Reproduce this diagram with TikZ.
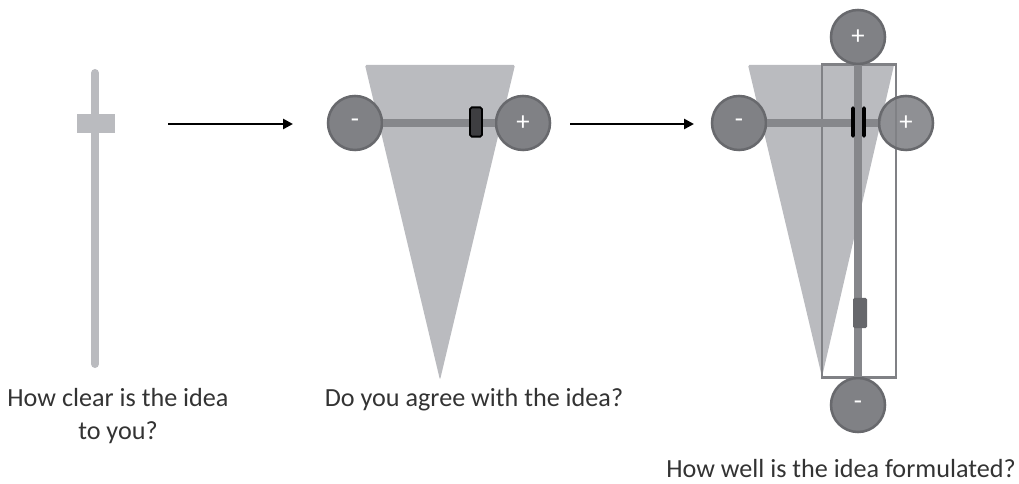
\documentclass[tikz,border=0pt]{standalone}
\usepackage{fontspec}
\setmainfont{Carlito}
\usepackage{tikz}
\usetikzlibrary{arrows.meta}
\definecolor{railgris}{RGB}{186,187,191}
\definecolor{knobgris}{RGB}{128,129,133}
\definecolor{knobborde}{RGB}{104,105,109}
\definecolor{trackgris}{RGB}{134,135,139}
\definecolor{gripgris}{RGB}{62,62,65}
\definecolor{handlegris}{RGB}{102,103,107}

\begin{document}
\begin{tikzpicture}[
  x=0.025cm, y=-0.025cm,
  knob/.style={circle, fill=knobgris, draw=knobborde, line width=1.8pt, minimum size=1.35cm,
    inner sep=0pt, text=white, font=\fontsize{19}{19}\selectfont},
  track/.style={draw=trackgris, line width=5.7pt},
  rail/.style={draw=railgris, line width=5.7pt, line cap=round},
  wedge/.style={fill=railgris, rounded corners=1pt},
  grip/.style={draw=black, fill=gripgris, line width=1.3pt, rounded corners=1.2pt, inner sep=0pt,
    minimum width=0.3cm, minimum height=0.73cm},
  question/.style={align=center, font=\fontsize{18.6}{22.8}\selectfont, text=black!80},
  >={Triangle[length=7pt, width=7pt]}, flow/.style={->, line width=2pt}
]
\useasboundingbox (0,0) rectangle (1019,484);

% panel 1: clarity slider
\draw[rail] (95,73) -- (95,364);
\node[fill=railgris, minimum width=0.925cm, minimum height=0.475cm, inner sep=0pt] (h1) at (96,124) {};
\node[question] (q1) at (118,416) {How clear is the idea\\to you?};

\coordinate (a1s) at (168,124);
\coordinate (a1e) at (293,124);
\draw[flow] (a1s) -- (a1e);

% panel 2: agreement
\fill[wedge] (365,65) -- (515,65) -- (440,380) -- cycle;
\node[knob] (m2) at (355,123) {-};
\node[knob] (p2) at (523,123) {+};
\draw[track] (m2) -- (p2);
\node[grip] (g2) at (476,122) {};
\node[question] (q2) at (474,400) {Do you agree with the idea?};

\coordinate (a2s) at (570,124);
\coordinate (a2e) at (694,124);
\draw[flow] (a2s) -- (a2e);

% panel 3: formulation
\fill[wedge] (748,65) -- (894,65) -- (822,377) -- cycle;
\node[draw=knobgris, line width=2.1pt, minimum width=1.85cm, minimum height=7.8cm, inner sep=0pt]
  (f3) at (859,221) {};
\node[knob] (m3) at (739,123) {-};
\node[knob] (t3) at (858,37) {+};
\node[knob] (b3) at (858,405) {-};
\node[knob, fill opacity=0.88, text opacity=1] (p3) at (906,123) {+};
\draw[track] (m3) -- (p3);
\draw[track] (t3) -- (b3);
\node[fill=black, rounded corners=1pt, minimum width=0.09cm, minimum height=0.775cm, inner sep=0pt] (l3a) at (853,122) {};
\node[fill=black, rounded corners=1pt, minimum width=0.09cm, minimum height=0.775cm, inner sep=0pt] (l3b) at (864,122) {};
\node[fill=handlegris, rounded corners=1pt, minimum width=0.35cm, minimum height=0.75cm, inner sep=0pt] (s3) at (860,313) {};
\node[question, align=none, anchor=base, inner sep=0pt] (q3) at (841,477) {How well is the idea formulated?};
\end{tikzpicture}
\end{document}
